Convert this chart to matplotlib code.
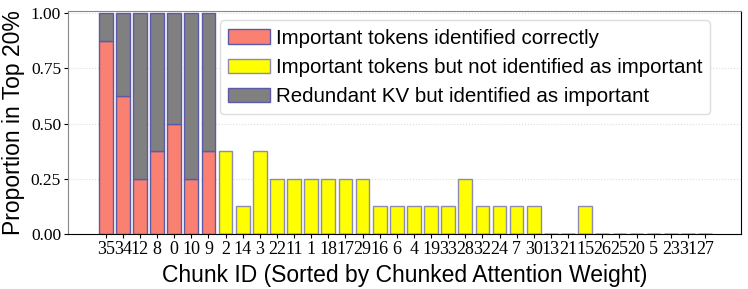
import numpy as np
import matplotlib
matplotlib.use('Agg')
import matplotlib.pyplot as plt

# chunk ids sorted by chunked attention weight
chunk_ids = ['35', '34', '12', '8', '0', '10', '9', '2', '14', '3', '22', '11', '1', '18',
             '17', '29', '16', '6', '4', '19', '33', '28', '32', '24', '7', '30', '13',
             '21', '15', '26', '25', '20', '5', '23', '31', '27']
correct = [0.875, 0.625, 0.25, 0.375, 0.5, 0.25, 0.375] + [0] * 29
redundant = [0.125, 0.375, 0.75, 0.625, 0.5, 0.75, 0.625] + [0] * 29
missed = [0] * 7 + [0.375, 0.125, 0.375, 0.25, 0.25, 0.25, 0.25, 0.25, 0.25,
                    0.125, 0.125, 0.125, 0.125, 0.125, 0.25, 0.125, 0.125, 0.125,
                    0.125, 0, 0, 0.125, 0, 0, 0, 0, 0, 0, 0]

x = np.arange(len(chunk_ids))
correct = np.array(correct)
redundant = np.array(redundant)
missed = np.array(missed)

fig = plt.figure(figsize=(7.48, 2.89), dpi=100)
ax = fig.add_axes([0.0909, 0.19, 0.8997, 0.772])

ax.grid(axis='y', linestyle=':', color='#dddddd', linewidth=0.8, zorder=0)
ax.set_axisbelow(True)

ax.bar(x, correct, width=0.8, color='#fa8072', edgecolor='#5a5aa8', linewidth=1,
       label='Important tokens identified correctly', zorder=2)
ax.bar(x, missed, width=0.8, color='#ffff00', edgecolor='#8c8cac', linewidth=1,
       label='Important tokens but not identified as important', zorder=2)
ax.bar(x, redundant, width=0.8, bottom=correct, color='#808080', edgecolor='#5a5aa8',
       linewidth=1, label='Redundant KV but identified as important', zorder=2)

ax.set_xlim(-2.2, 37.1)
ax.set_ylim(0, 1.009)
ax.set_yticks([0, 0.25, 0.5, 0.75, 1.0])
ax.set_yticklabels(['0.00', '0.25', '0.50', '0.75', '1.00'],
                   family='Liberation Serif', fontsize=12.5)
ax.set_xticks(x)
ax.set_xticklabels(chunk_ids, family='Liberation Serif', fontsize=13)
ax.tick_params(axis='x', length=3, pad=2)
ax.tick_params(axis='y', length=3, pad=2)

ax.set_xlabel('Chunk ID (Sorted by Chunked Attention Weight)', family='Liberation Sans',
              fontsize=16.5, labelpad=4)
ax.set_ylabel('Proportion in Top 20%', family='Liberation Sans', fontsize=16.5, labelpad=4)

ax.spines['top'].set_color('#888888')
ax.spines['left'].set_color('#888888')

ax.legend(loc='upper left', bbox_to_anchor=(0.217, 0.985), prop={'family': 'Liberation Sans', 'size': 14.8},
          frameon=True, edgecolor='#dddddd', framealpha=1, handlelength=2.0,
          labelspacing=0.5, borderpad=0.4, handletextpad=0.3, borderaxespad=0.3)

plt.savefig('out.png', dpi=100)
